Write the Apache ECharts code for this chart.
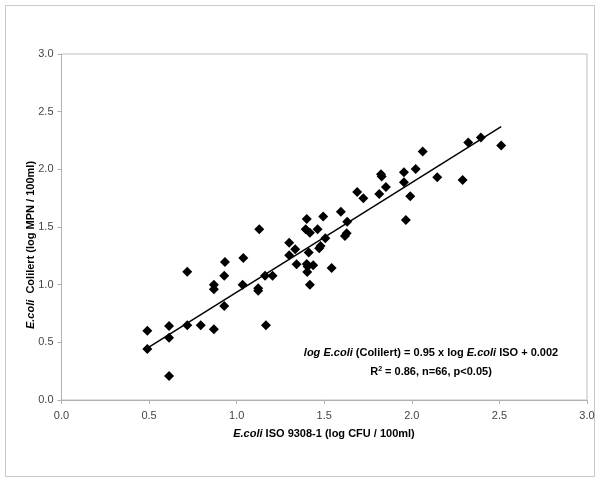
<!DOCTYPE html>
<html>
<head>
<meta charset="utf-8">
<script src="https://cdn.jsdelivr.net/npm/echarts@6/dist/echarts.min.js"></script>
<style>
html,body{margin:0;padding:0;background:#fff;}
#c{width:600px;height:482px;}
</style>
</head>
<body>
<div id="c"></div>
<script>
// ISO 9308-1 (x) vs Colilert (y), log units
const isoX = [2.322,2.394,2.510,2.062,1.824,1.828,1.955,2.022,2.145,2.290,1.955,1.852,1.688,1.814,1.723,1.991,1.966,
  1.595,1.631,1.400,1.494,1.129,1.394,1.418,1.462,1.618,1.628,1.506,1.300,1.479,1.471,1.334,1.300,1.411,0.933,1.038,0.718,
  1.342,1.400,1.405,1.437,1.542,1.403,0.929,1.162,1.205,0.870,0.870,1.034,1.123,1.123,1.418,
  0.929,0.490,0.614,0.614,0.718,0.795,0.870,1.167,0.490,0.614];
const colilertY = [2.232,2.275,2.206,2.154,1.957,1.938,1.975,2.003,1.932,1.908,1.888,1.847,1.804,1.787,1.749,1.767,1.561,
  1.633,1.546,1.570,1.590,1.480,1.480,1.451,1.480,1.422,1.446,1.402,1.364,1.336,1.316,1.307,1.255,1.278,1.197,1.232,1.113,
  1.177,1.180,1.158,1.168,1.145,1.110,1.078,1.078,1.078,1.000,0.960,1.000,0.969,0.948,1.000,
  0.815,0.601,0.642,0.540,0.648,0.648,0.613,0.648,0.442,0.208];
const trendX = [0.49, 2.51];
const trendY = [0.45, 2.37];
const xTicks = ['0.0','0.5','1.0','1.5','2.0','2.5','3.0'];
const yTicks = ['0.0','0.5','1.0','1.5','2.0','2.5','3.0'];

const pts = isoX.map((x, i) => [x, colilertY[i]]);
const line = trendX.map((x, i) => [x, trendY[i]]);

const chart = echarts.init(document.getElementById('c'), null, {renderer: 'canvas'});
const font = 'Arial, "Liberation Sans", sans-serif';
chart.setOption({
  animation: false,
  backgroundColor: '#fff',
  grid: {left: 61.5, top: 54, width: 525.5, height: 346, show: true, borderColor: '#c0c0c0', borderWidth: 1},
  xAxis: {
    type: 'value', min: 0, max: 3, interval: 0.5,
    axisLine: {show: true, lineStyle: {color: '#b0b0b0', width: 1}},
    axisTick: {show: true, length: 4, inside: false, lineStyle: {color: '#b0b0b0'}},
    splitLine: {show: false},
    axisLabel: {margin: 10, color: '#444', fontSize: 11, fontFamily: font,
      formatter: v => xTicks[Math.round(v * 2)]}
  },
  yAxis: {
    type: 'value', min: 0, max: 3, interval: 0.5,
    axisLine: {show: true, lineStyle: {color: '#b0b0b0', width: 1}},
    axisTick: {show: true, length: 4, inside: false, lineStyle: {color: '#b0b0b0'}},
    splitLine: {show: false},
    axisLabel: {margin: 8, color: '#444', fontSize: 11, fontFamily: font,
      formatter: v => yTicks[Math.round(v * 2)]}
  },
  series: [
    {type: 'line', data: line, symbol: 'none', lineStyle: {color: '#000', width: 1.5}, z: 2},
    {type: 'scatter', data: pts, symbol: 'diamond', symbolSize: 10, itemStyle: {color: '#000', opacity: 1}, z: 3}
  ],
  graphic: [
    {type: 'rect', shape: {x: 5.5, y: 5.5, width: 589, height: 471}, style: {fill: 'none', stroke: '#c8c8c8', lineWidth: 1}, silent: true, z: -1},
    {type: 'text', x: 324, y: 434, style: {
      text: '{i|E.coli} ISO 9308-1 (log CFU / 100ml)', align: 'center', verticalAlign: 'middle',
      font: 'bold 11px Arial, "Liberation Sans", sans-serif', fill: '#000',
      rich: {i: {fontStyle: 'italic', fontWeight: 'bold', fontSize: 11, fontFamily: font, fill: '#000'}}}},
    {type: 'text', x: 31, y: 245, rotation: Math.PI / 2, style: {
      text: '{i|E.coli}  Colilert (log MPN / 100ml)', align: 'center', verticalAlign: 'middle',
      font: 'bold 11px Arial, "Liberation Sans", sans-serif', fill: '#000',
      rich: {i: {fontStyle: 'italic', fontWeight: 'bold', fontSize: 11, fontFamily: font, fill: '#000'}}}},
    {type: 'text', x: 431, y: 353, style: {
      text: '{i|log E.coli} (Colilert) = 0.95 x log {i|E.coli} ISO + 0.002', align: 'center', verticalAlign: 'middle',
      font: 'bold 11px Arial, "Liberation Sans", sans-serif', fill: '#000',
      rich: {i: {fontStyle: 'italic', fontWeight: 'bold', fontSize: 11, fontFamily: font, fill: '#000'}}}},
    {type: 'text', x: 431, y: 372, style: {
      text: 'R{s|2} = 0.86, n=66, p<0.05)', align: 'center', verticalAlign: 'middle',
      font: 'bold 11px Arial, "Liberation Sans", sans-serif', fill: '#000',
      rich: {s: {fontWeight: 'bold', fontSize: 7, fontFamily: font, fill: '#000', verticalAlign: 'top', padding: [0, 0, 6, 0]}}}}
  ]
});
</script>
</body>
</html>
